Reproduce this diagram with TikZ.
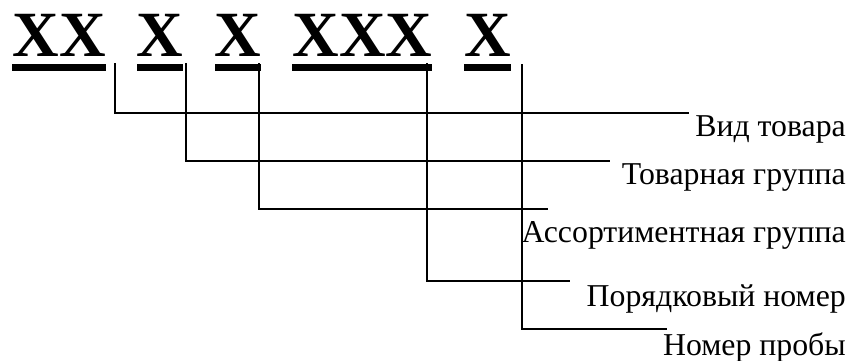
\documentclass[tikz,border=0pt]{standalone}
\usepackage{fontspec}
\setmainfont{Liberation Serif}
\begin{document}
\begin{tikzpicture}[x=1pt,y=1pt,
  code/.style={inner sep=0pt,anchor=base west,font=\fontsize{64.5}{70}\selectfont\bfseries},
  lbl/.style={inner sep=0pt,anchor=base east,font=\fontsize{31.8}{36}\selectfont},
  bar/.style={fill=black,draw=none},
  conn/.style={line width=1.6pt,line cap=rect}]
\useasboundingbox (0,0) rectangle (852,361);
% code groups
\node[code] (g1) at (12.3,304.3) {XX};
\node[code] (g2) at (136.5,304.3) {X};
\node[code] (g3) at (214.5,304.3) {X};
\node[code] (g4) at (292.3,304.3) {XXX};
\node[code] (g5) at (464,304.3) {X};
% underline bars
\foreach \g in {g1,g2,g3,g4,g5}{
  \fill[bar] (\g.west |- 0,297) rectangle (\g.east |- 0,290.3);
}
% labels
\node[lbl] (l1) at (846,224) {Вид товара};
\node[lbl] (l2) at (846,176) {Товарная группа};
\node[lbl] (l3) at (846,118) {Ассортиментная группа};
\node[lbl] (l4) at (846,54) {Порядковый номер};
\node[lbl] (l5) at (846,5) {Номер пробы};
% connector coordinates
\coordinate (t1) at (114.7,297);
\coordinate (c1) at (114.7,247.7);
\coordinate (e1) at (688,247.7);
\coordinate (t2) at (185.7,297);
\coordinate (c2) at (185.7,200);
\coordinate (e2) at (608.7,200);
\coordinate (t3) at (258.7,297);
\coordinate (c3) at (258.7,151.7);
\coordinate (e3) at (547,151.7);
\coordinate (t4) at (426.7,297);
\coordinate (c4) at (426.7,79.7);
\coordinate (e4) at (569,79.7);
\coordinate (t5) at (522,296);
\coordinate (c5) at (522,31.7);
\coordinate (e5) at (666,31.7);
\draw[conn] (t1) -- (c1) -- (e1);
\draw[conn] (t2) -- (c2) -- (e2);
\draw[conn] (t3) -- (c3) -- (e3);
\draw[conn] (t4) -- (c4) -- (e4);
\draw[conn] (t5) -- (c5) -- (e5);
\end{tikzpicture}
\end{document}
